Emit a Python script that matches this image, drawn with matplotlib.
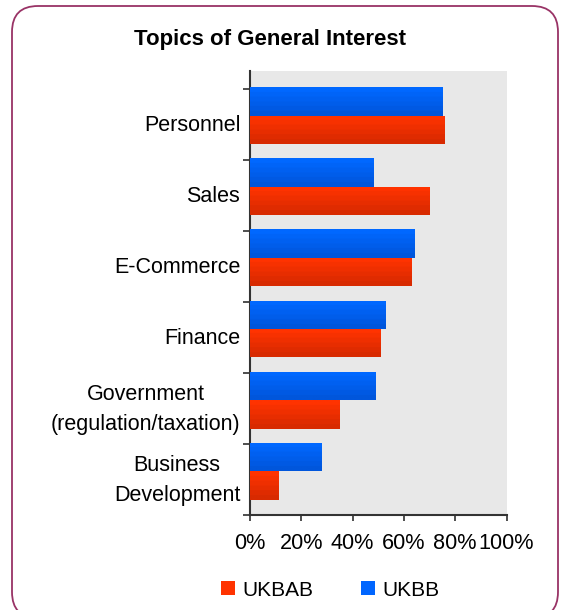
import numpy as np
import matplotlib
matplotlib.use("Agg")
import matplotlib.pyplot as plt
from matplotlib.patches import FancyBboxPatch, Patch
from matplotlib.transforms import IdentityTransform
from matplotlib.colors import LinearSegmentedColormap

plt.rcParams['font.family'] = ['Liberation Sans', 'DejaVu Sans']

# Survey data: share of respondents interested in each topic
categories = ["Personnel", "Sales", "E-Commerce", "Finance",
              "Government\n(regulation/taxation)", "Business\nDevelopment"]
ukbb = [75, 48, 64, 53, 49, 28]
ukbab = [76, 70, 63, 51, 35, 11]
xticks = [0, 20, 40, 60, 80, 100]
series_names = ["UKBAB", "UKBB"]

W, H, DPI = 561, 610, 100
fig = plt.figure(figsize=(W / DPI, H / DPI), dpi=DPI)
fig.patch.set_facecolor("white")

# Rounded outer frame
frame = FancyBboxPatch((12, -8), 546, 612, boxstyle="round,pad=0,rounding_size=26",
                       transform=IdentityTransform(), facecolor="none",
                       edgecolor="#993366", linewidth=1.3, zorder=0)
fig.patches.append(frame)

ax = fig.add_axes([250 / W, 1 - 514.5 / H, 256.5 / W, 443.5 / H])
ax.set_facecolor("#E8E8E8")

y = np.arange(len(categories))
bh = 0.4
blue_bars = ax.barh(y - 0.2, ukbb, height=bh, color="#0062F5", linewidth=0, zorder=2)
red_bars = ax.barh(y + 0.2, ukbab, height=bh, color="#F23000", linewidth=0, zorder=2)

# Vertical banded shading on each bar
blue_cmap = LinearSegmentedColormap.from_list("b", ["#0068FF", "#0056DC"], N=6)
red_cmap = LinearSegmentedColormap.from_list("r", ["#FF3300", "#D82A00"], N=6)
grad = np.linspace(0, 1, 64).reshape(-1, 1)
for bars, cmap in ((blue_bars, blue_cmap), (red_bars, red_cmap)):
    for b in bars:
        x0, y0 = b.get_x(), b.get_y()
        w, h = b.get_width(), b.get_height()
        im = ax.imshow(grad, cmap=cmap, aspect="auto", origin="upper",
                       extent=(x0, x0 + w, y0 + h, y0), zorder=3)
        im.set_clip_path(b)

ax.set_xlim(0, 100)
ax.set_ylim(5.61, -0.63)

ax.set_xticks(xticks)
ax.set_xticklabels([f"{v}%" for v in xticks], fontsize=15.6)

# Category boundary ticks and labels centred between them
ax.set_yticks(list(y - 0.38) + [5.61])
ax.set_yticklabels([])
label_pos = [i + (0.1 if "\n" not in c else 0.03) for i, c in zip(y, categories)]
ax.set_yticks(label_pos, minor=True)
ax.set_yticklabels(categories, minor=True, fontsize=15.5)
for t in ax.get_yticklabels(minor=True):
    t.set_multialignment("center")
    t.set_linespacing(1.6)
ax.tick_params(axis="y", which="minor", length=0, pad=7)
ax.tick_params(axis="y", which="major", length=5, width=1.3, color="#404040", direction="out")
ax.tick_params(axis="x", length=4, width=1.3, color="#404040", pad=9.5)

for s in ("top", "right"):
    ax.spines[s].set_visible(False)
for s in ("left", "bottom"):
    ax.spines[s].set_color("#333333")
    ax.spines[s].set_linewidth(1.5)

fig.text(270 / W, 1 - 40 / H, "Topics of General Interest", fontsize=16,
         fontweight="bold", ha="center", va="center")

handles = [Patch(facecolor="#FF3300", edgecolor="none"),
           Patch(facecolor="#0066FF", edgecolor="none")]
fig.legend(handles, series_names, loc="center", bbox_to_anchor=(330 / W, 1 - 590 / H),
           ncol=2, frameon=False, fontsize=15, handlelength=0.68, handleheight=0.68,
           handletextpad=0.35, columnspacing=2.3)

fig.savefig("out.png", dpi=DPI)
